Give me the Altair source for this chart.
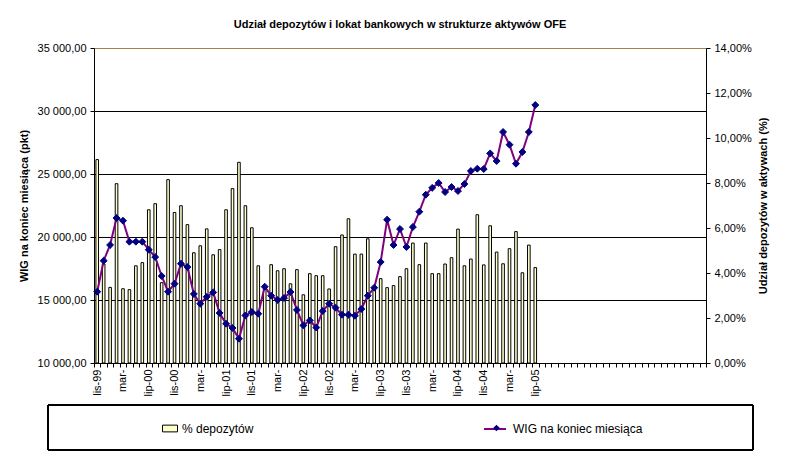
import altair as alt
import pandas as pd

# ---------------- data ----------------
tick_labels = ['lis-99', 'mar-', 'lip-00', 'lis-00', 'mar-', 'lip-01', 'lis-01', 'mar-',
               'lip-02', 'lis-02', 'mar-', 'lip-03', 'lis-03', 'mar-', 'lip-04', 'lis-04',
               'mar-', 'lip-05']
n_slots = 95  # category slots on the x axis (data fills the first 69)

deposits_pct = [9.04, 4.40, 3.36, 7.97, 3.30, 3.26, 4.32, 4.46, 6.81, 7.08,
                3.57, 8.15, 6.69, 6.99, 6.15, 4.90, 5.21, 5.96, 4.81, 5.04,
                6.81, 7.75, 8.92, 6.99, 6.01, 4.32, 3.39, 4.37, 4.10, 4.19,
                3.52, 4.15, 3.03, 3.97, 3.88, 3.88, 3.29, 5.17, 5.69, 6.41,
                4.84, 4.84, 5.52, 3.26, 3.75, 3.35, 3.44, 3.84, 4.19, 5.33,
                4.37, 5.33, 3.97, 3.97, 4.40, 4.68, 5.95, 4.32, 4.62, 6.59,
                4.36, 6.10, 4.93, 4.41, 5.08, 5.84, 4.01, 5.24, 4.24]

wig = [15659, 18119, 19365, 21508, 21294, 19627, 19627, 19627, 18992, 18413,
       16905, 15659, 16294, 17881, 17619, 15476, 14706, 15250, 15603, 13968,
       13119, 12778, 11929, 13778, 14048, 13913, 16056, 15341, 15000, 15159,
       15635, 14206, 12984, 13381, 12814, 14127, 14706, 14389, 13833, 13833,
       13754, 14286, 15341, 15976, 18016, 21373, 19365, 20635, 19206, 20794,
       22008, 23357, 23900, 24286, 23571, 23968, 23651, 24206, 25238, 25421,
       25397, 26635, 26032, 28333, 27325, 25817, 26746, 28333, 30476]

bar_name = '% depozytów'
line_name = 'WIG na koniec miesiąca'
marker_name = 'WIG'
title_text = 'Udział depozytów i lokat bankowych w strukturze aktywów OFE'
left_title = 'WIG na koniec miesiąca (pkt)'
right_title = 'Udział depozytów w aktywach (%)'

df = pd.DataFrame({
    'i': list(range(len(wig))),
    'dep': deposits_pct,
    'wig': wig,
    's1': bar_name,
    's2': line_name,
    's3': marker_name,
})

FONT = 'Liberation Sans'

label_js = '[' + ','.join("'" + l + "'" for l in tick_labels) + ']'
x_label_expr = (f"(datum.value % 4 == 0 && datum.value / 4 < {len(tick_labels)}) "
                f"? {label_js}[datum.value / 4] : ''")

x_enc = alt.X(
    'i:O',
    scale=alt.Scale(domain=list(range(n_slots)), paddingInner=0, paddingOuter=0),
    axis=alt.Axis(title=None, labelExpr=x_label_expr, labelAngle=270,
                  labelAlign='right', labelBaseline='middle', labelOverlap=False,
                  tickBand='extent', tickSize=4, tickColor='black',
                  domainColor='black', labelFontSize=11, labelFont=FONT,
                  labelColor='black', labelPadding=2, grid=False),
)

bars = alt.Chart(df).mark_bar(size=2.6, stroke='black', strokeWidth=1, opacity=1).encode(
    x=x_enc,
    y=alt.Y('dep:Q',
            scale=alt.Scale(domain=[0, 14], nice=False, zero=True),
            axis=alt.Axis(orient='right', values=[0, 2, 4, 6, 8, 10, 12, 14],
                          grid=False,
                          labelExpr="replace(format(datum.value, '.2f'), '.', ',') + '%'",
                          title=right_title, titleAngle=270, titleBaseline='top',
                          titleFontSize=11, titleFontWeight='bold', titleFont=FONT,
                          titleColor='black', titlePadding=6, labelFontSize=11,
                          labelFont=FONT, labelColor='black', tickSize=4,
                          tickColor='black', domainColor='black', labelPadding=4)),
    fill=alt.Fill('s1:N',
                  scale=alt.Scale(domain=[bar_name], range=['#FFFFCC']),
                  legend=alt.Legend(orient='none', legendX=68, legendY=372.5,
                                    title=None,
                                    symbolType='M-1,-0.45L1,-0.45L1,0.45L-1,0.45Z',
                                    symbolSize=225, symbolStrokeColor='black',
                                    symbolStrokeWidth=1, labelFontSize=12,
                                    labelFont=FONT, labelColor='black',
                                    labelOffset=4)),
)

y_left = alt.Y('wig:Q',
               scale=alt.Scale(domain=[10000, 35000], nice=False, zero=False),
               axis=alt.Axis(orient='left',
                             values=[10000, 15000, 20000, 25000, 30000, 35000],
                             grid=True,
                             gridColor={'condition': {'test': 'datum.value == 35000',
                                                      'value': '#A88050'},
                                        'value': 'black'},
                             gridWidth=1,
                             labelExpr="replace(replace(format(datum.value, ',.2f'), ',', ' '), '.', ',')",
                             title=left_title, titleFontSize=11,
                             titleFontWeight='bold', titleFont=FONT,
                             titleColor='black', titlePadding=8,
                             labelFontSize=11, labelFont=FONT, labelColor='black',
                             tickSize=4, tickColor='black', domainColor='black',
                             labelPadding=4))

line = alt.Chart(df).mark_line(strokeWidth=2).encode(
    x=x_enc,
    y=y_left,
    stroke=alt.Stroke('s2:N',
                      scale=alt.Scale(domain=[line_name], range=['#800080']),
                      legend=alt.Legend(orient='none', legendX=389, legendY=369,
                                        title=None, symbolType='stroke',
                                        symbolSize=484, symbolStrokeWidth=2,
                                        labelFontSize=12, labelFont=FONT,
                                        labelColor='black', labelOffset=6)),
)

points = alt.Chart(df).mark_point(filled=True, fill='#000080', stroke='#000080',
                                  strokeWidth=1, size=48, opacity=1).encode(
    x=x_enc,
    y=y_left,
    shape=alt.Shape('s3:N',
                    scale=alt.Scale(domain=[marker_name], range=['diamond']),
                    legend=alt.Legend(orient='none', legendX=396.5, legendY=374,
                                      title=None, symbolSize=44,
                                      symbolFillColor='#000080',
                                      symbolStrokeColor='#000080',
                                      labelExpr="''", labelFontSize=12)),
)

frame = alt.Chart(df).mark_rect(fill='transparent', stroke='black', strokeWidth=1).encode(
    x=alt.value(-46), x2=alt.value(659), y=alt.value(357), y2=alt.value(402)
)

wig_layer = alt.layer(line, points)

chart = alt.layer(bars, wig_layer, frame).resolve_scale(
    y='independent'
).properties(
    width=612,
    height=315,
    padding={'left': 86, 'top': 40, 'right': 74, 'bottom': 89},
    autosize=alt.AutoSizeParams(type='none'),
    title=alt.Title(title_text, fontSize=11, fontWeight='bold', font=FONT,
                    color='black', anchor='middle', frame='group', offset=12),
).configure_view(stroke=None).configure(background='white')

chart.save('out.html', embed_options={'renderer': 'svg', 'actions': False})
